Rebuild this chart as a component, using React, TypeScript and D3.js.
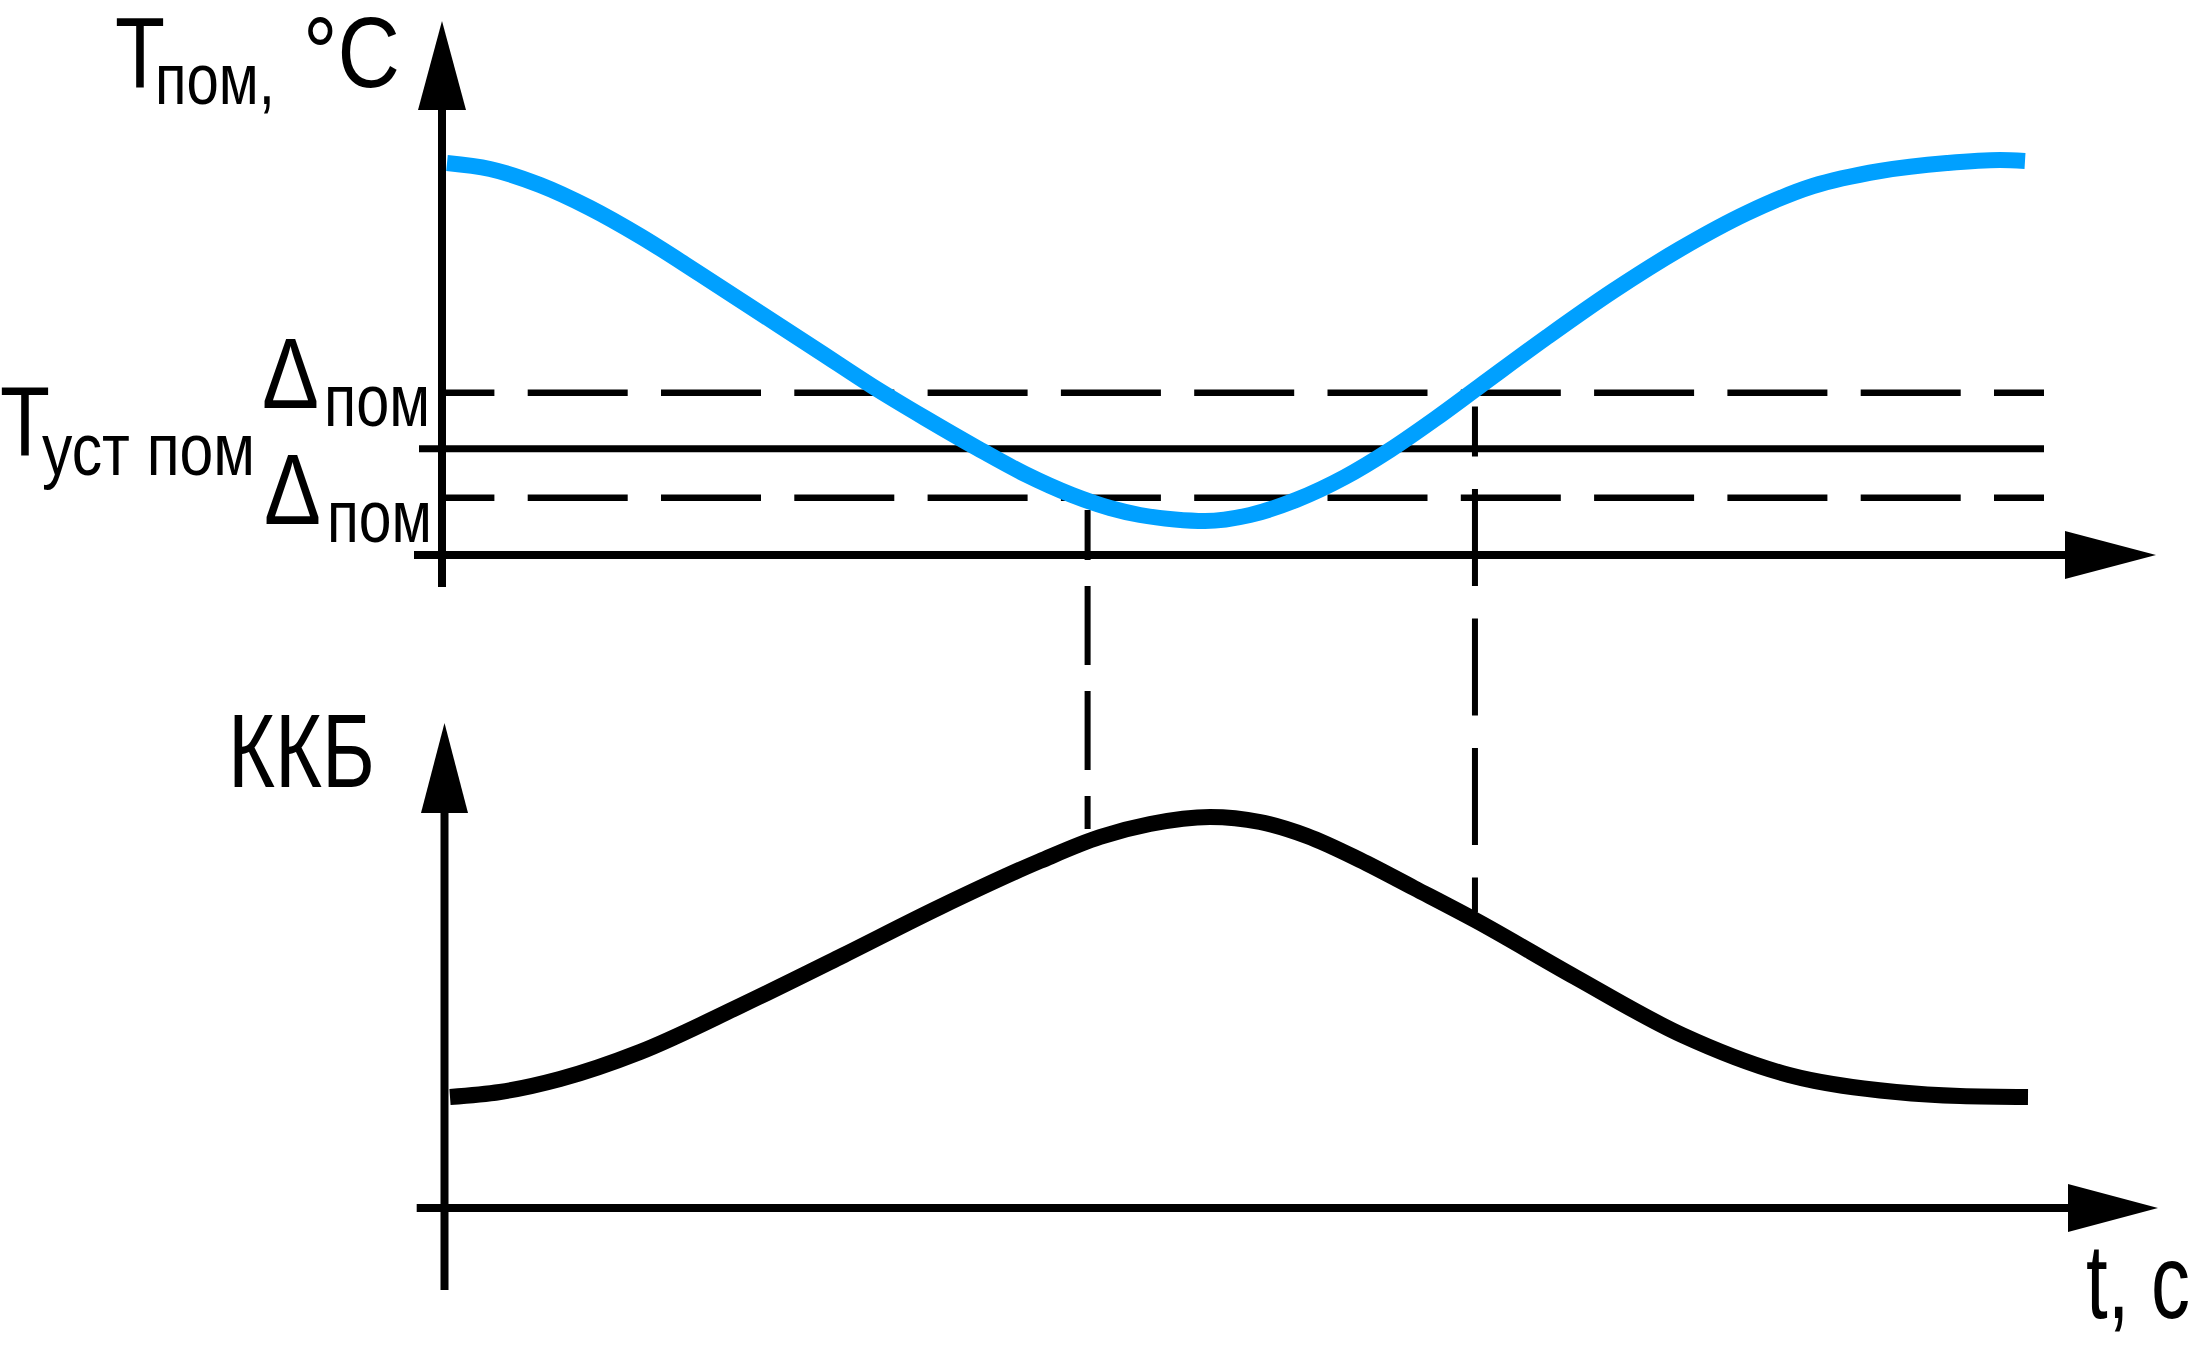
import React from 'react';
import * as d3 from 'd3';

// ---- data (time in arbitrary units, values in arbitrary units) ----
const tempTime = [0.3125, 3.0, 6.125, 9.25, 12.375, 16.125, 19.875, 23.625, 26.875, 30.1875, 33.4375, 36.4375, 39.375, 41.75, 43.625, 45.8125, 47.6875, 50.5, 53.375, 56.4375, 59.25, 62.0625, 64.875, 69.0625, 73.1875, 77.375, 81.5625, 85.6875, 89.875, 94.0625, 97.375, 98.9375];
const tempValue = [39.2, 38.6, 37.0, 34.7, 31.9, 28.1, 24.2, 20.3, 16.9, 13.7, 10.7, 8.1, 6.0, 4.7, 4.0, 3.55, 3.4, 4.0, 5.5, 7.8, 10.5, 13.6, 16.9, 21.8, 26.4, 30.6, 34.2, 36.9, 38.4, 39.2, 39.5, 39.4];

const kkbTime = [0.5, 3.625, 7.375, 12.375, 18.625, 24.875, 31.125, 37.375, 41.125, 44.25, 48.0, 51.125, 54.0625, 57.375, 60.75, 64.5625, 70.8125, 77.5, 84.1875, 90.875, 94.875, 99.125];
const kkbValue = [11.1, 11.6, 12.9, 15.6, 20.2, 25.1, 30.1, 34.7, 37.1, 38.4, 39.1, 38.6, 37.2, 34.8, 32.0, 28.8, 23.1, 17.3, 13.3, 11.6, 11.2, 11.1];

const setpointValue = 10.63;
const bandUpper = 16.23;
const bandLower = 5.73;

const markerTimes = [40.35, 64.56];
const markerTopValue = [4.5, 14.84];     // top panel units
const markerBottomValue = [37.9, 29.54]; // bottom panel units

const BLUE = '#00A0FF';
const FONT = "'Liberation Sans Narrow', 'Arial Narrow', 'Liberation Sans', Arial, sans-serif";

export default function App() {
  const x = d3.scaleLinear().domain([0, 100]).range([442, 2042]);
  const yTop = d3.scaleLinear().domain([0, 40]).range([555, 155]);
  const yBot = d3.scaleLinear().domain([0, 40]).range([1208, 808]);

  const tempLine = d3
    .line<number>()
    .x((_, i) => x(tempTime[i]))
    .y((d) => yTop(d))
    .curve(d3.curveMonotoneX);
  const kkbLine = d3
    .line<number>()
    .x((_, i) => x(kkbTime[i]))
    .y((d) => yBot(d))
    .curve(d3.curveMonotoneX);

  const hx0 = 445;
  const hx1 = 2044;

  const markerDash = [
    { dash: '79 26', offset: 29 },
    { dash: '97 32.5', offset: 47 },
  ];

  const txt = (props: any, s: string) => (
    <text
      x={props.x}
      y={props.y}
      fontSize={props.size}
      textLength={props.len}
      lengthAdjust="spacingAndGlyphs"
      fontFamily={FONT}
      fill="#000"
    >
      {s}
    </text>
  );

  return (
    <div style={{ position: 'absolute', left: 0, top: 0 }}>
      <svg width={2196} height={1349} viewBox="0 0 2196 1349" style={{ display: 'block', background: '#fff' }}>
        <rect x={0} y={0} width={2196} height={1349} fill="#fff" />

        {/* ---------- top panel ---------- */}
        <line x1={hx0} x2={hx1} y1={yTop(bandUpper)} y2={yTop(bandUpper)} stroke="#000" strokeWidth={6.5} strokeDasharray="100 33.3" strokeDashoffset={50.6} />
        <line x1={419} x2={hx1} y1={yTop(setpointValue)} y2={yTop(setpointValue)} stroke="#000" strokeWidth={7} />
        <line x1={hx0} x2={hx1} y1={yTop(bandLower)} y2={yTop(bandLower)} stroke="#000" strokeWidth={6.5} strokeDasharray="100 33.3" strokeDashoffset={50.6} />

        <line x1={442} x2={442} y1={100} y2={587} stroke="#000" strokeWidth={8} />
        <polygon points="442,21 418,110 466,110" fill="#000" />
        <line x1={414} x2={2070} y1={555} y2={555} stroke="#000" strokeWidth={8} />
        <polygon points="2156,555 2065,531 2065,579" fill="#000" />

        {markerTimes.map((t, i) => (
          <line
            key={i}
            x1={x(t)}
            x2={x(t)}
            y1={yTop(markerTopValue[i])}
            y2={yBot(markerBottomValue[i])}
            stroke="#000"
            strokeWidth={6}
            strokeDasharray={markerDash[i].dash}
            strokeDashoffset={markerDash[i].offset}
          />
        ))}

        <path d={tempLine(tempValue) || ''} fill="none" stroke={BLUE} strokeWidth={16} strokeLinecap="butt" />

        {/* ---------- bottom panel ---------- */}
        <line x1={444.5} x2={444.5} y1={805} y2={1290} stroke="#000" strokeWidth={8} />
        <polygon points="444.5,723 421,813 468,813" fill="#000" />
        <line x1={416.7} x2={2075} y1={1208} y2={1208} stroke="#000" strokeWidth={8} />
        <polygon points="2158,1208 2068,1184 2068,1232" fill="#000" />

        <path d={kkbLine(kkbValue) || ''} fill="none" stroke="#000" strokeWidth={16} strokeLinecap="butt" />

        {/* ---------- labels ---------- */}
        {txt({ x: 115, y: 87, size: 100, len: 50 }, 'T')}
        {txt({ x: 155, y: 104, size: 72, len: 120 }, 'пом,')}
        {txt({ x: 303, y: 87, size: 100, len: 97 }, '°C')}

        {txt({ x: 0, y: 455, size: 98, len: 50 }, 'T')}
        {txt({ x: 42, y: 474.5, size: 75, len: 213 }, 'уст пом')}

        {txt({ x: 262, y: 407.6, size: 100, len: 57 }, 'Δ')}
        {txt({ x: 324, y: 425.6, size: 75, len: 106 }, 'пом')}
        {txt({ x: 264, y: 523.5, size: 100, len: 57 }, 'Δ')}
        {txt({ x: 327, y: 541.5, size: 75, len: 105 }, 'пом')}

        {txt({ x: 228, y: 787, size: 103, len: 147 }, 'ККБ')}
        {txt({ x: 2086, y: 1318, size: 106, len: 104 }, 't, c')}
      </svg>
    </div>
  );
}
